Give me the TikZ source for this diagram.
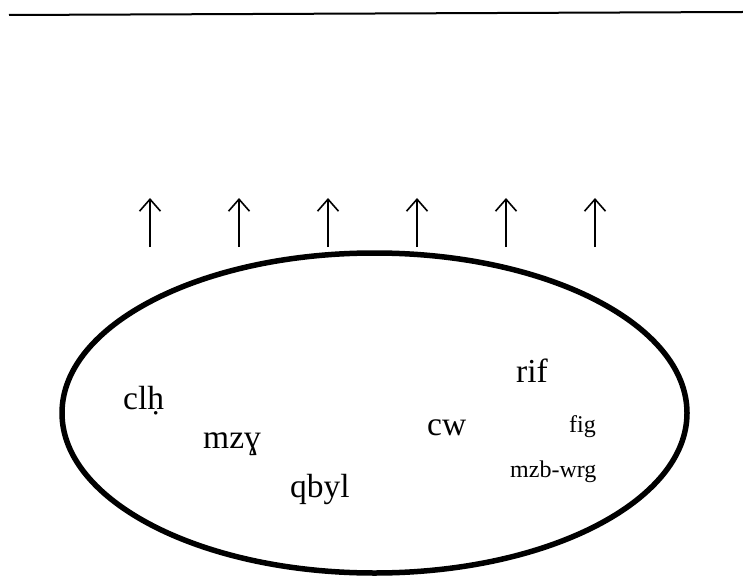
\documentclass[tikz,border=0pt]{standalone}
\usepackage{fontspec}
\setmainfont{Liberation Serif}
\usepackage{tikz}
\usetikzlibrary{arrows.meta}
\tikzstyle{big} = [anchor=base west, inner sep=0pt, font=\fontsize{33.5}{40}\selectfont]
\tikzstyle{small} = [anchor=base west, inner sep=0pt, font=\fontsize{24}{28}\selectfont]
\tikzstyle{arrow} = [line width=1.6pt, -{Straight Barb[length=12pt, width=21pt]}]

\begin{document}
\begin{tikzpicture}[x=1pt, y=-1pt]
\useasboundingbox (0,0) rectangle (743,577);

% ground line
\coordinate (gl) at (9,15);
\coordinate (gr) at (743,12);
\draw [line width=2pt] (gl) -- (gr);

% upward arrows
\foreach \i/\x in {1/150, 2/239, 3/328, 4/417, 5/506, 6/595} {
  \coordinate (tail\i) at (\x,247);
  \coordinate (head\i) at (\x,198);
  \draw [arrow] (tail\i) -- (head\i);
}

% the region
\draw [line width=5.5pt] (374.5,413) ellipse [x radius=312.5, y radius=160];

\node (clh) [big] at (123,409) {clḥ};
\node (mzg) [big] at (203,448) {mzɣ};
\node (qbyl) [big] at (290,497) {qbyl};
\node (cw) [big] at (427,435) {cw};
\node (rif) [big] at (516,382) {rif};
\node (fig) [small] at (569,432) {fig};
\node (mzbwrg) [small] at (510,477) {mzb-wrg};

\end{tikzpicture}
\end{document}
